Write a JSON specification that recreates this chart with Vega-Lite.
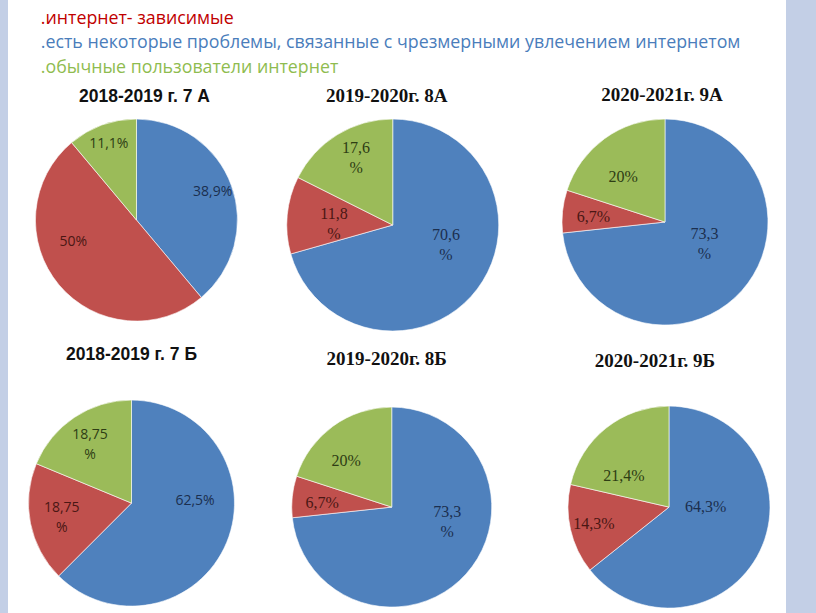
{
  "$schema": "https://vega.github.io/schema/vega-lite/v6.json",
  "width": 816,
  "height": 613,
  "autosize": {"type": "fit", "contains": "padding"},
  "padding": {"left": 8, "right": 30, "top": 0, "bottom": 0},
  "background": "#c3cfe6",
  "config": {"view": {"fill": "white", "stroke": null}},
  "datasets": {
    "slices": [
      {"pie": "7А", "year": "2018-2019", "cls": "А", "cat": "есть некоторые проблемы, связанные с чрезмерными увлечением интернетом", "value": 38.9, "label": "38,9%"},
      {"pie": "7А", "year": "2018-2019", "cls": "А", "cat": "интернет- зависимые", "value": 50, "label": "50%"},
      {"pie": "7А", "year": "2018-2019", "cls": "А", "cat": "обычные пользователи интернет", "value": 11.1, "label": "11,1%"},
      {"pie": "8А", "year": "2019-2020", "cls": "А", "cat": "есть некоторые проблемы, связанные с чрезмерными увлечением интернетом", "value": 70.6, "label": "70,6 %"},
      {"pie": "8А", "year": "2019-2020", "cls": "А", "cat": "интернет- зависимые", "value": 11.8, "label": "11,8 %"},
      {"pie": "8А", "year": "2019-2020", "cls": "А", "cat": "обычные пользователи интернет", "value": 17.6, "label": "17,6 %"},
      {"pie": "9А", "year": "2020-2021", "cls": "А", "cat": "есть некоторые проблемы, связанные с чрезмерными увлечением интернетом", "value": 73.3, "label": "73,3 %"},
      {"pie": "9А", "year": "2020-2021", "cls": "А", "cat": "интернет- зависимые", "value": 6.7, "label": "6,7%"},
      {"pie": "9А", "year": "2020-2021", "cls": "А", "cat": "обычные пользователи интернет", "value": 20, "label": "20%"},
      {"pie": "7Б", "year": "2018-2019", "cls": "Б", "cat": "есть некоторые проблемы, связанные с чрезмерными увлечением интернетом", "value": 62.5, "label": "62,5%"},
      {"pie": "7Б", "year": "2018-2019", "cls": "Б", "cat": "интернет- зависимые", "value": 18.75, "label": "18,75 %"},
      {"pie": "7Б", "year": "2018-2019", "cls": "Б", "cat": "обычные пользователи интернет", "value": 18.75, "label": "18,75 %"},
      {"pie": "8Б", "year": "2019-2020", "cls": "Б", "cat": "есть некоторые проблемы, связанные с чрезмерными увлечением интернетом", "value": 73.3, "label": "73,3 %"},
      {"pie": "8Б", "year": "2019-2020", "cls": "Б", "cat": "интернет- зависимые", "value": 6.7, "label": "6,7%"},
      {"pie": "8Б", "year": "2019-2020", "cls": "Б", "cat": "обычные пользователи интернет", "value": 20, "label": "20%"},
      {"pie": "9Б", "year": "2020-2021", "cls": "Б", "cat": "есть некоторые проблемы, связанные с чрезмерными увлечением интернетом", "value": 64.3, "label": "64,3%"},
      {"pie": "9Б", "year": "2020-2021", "cls": "Б", "cat": "интернет- зависимые", "value": 14.3, "label": "14,3%"},
      {"pie": "9Б", "year": "2020-2021", "cls": "Б", "cat": "обычные пользователи интернет", "value": 21.4, "label": "21,4%"}
    ],
    "titles": [
      {"pie": "7А", "year": "2018-2019", "cls": "А", "title": "2018-2019 г. 7 А"},
      {"pie": "8А", "year": "2019-2020", "cls": "А", "title": "2019-2020г. 8А"},
      {"pie": "9А", "year": "2020-2021", "cls": "А", "title": "2020-2021г. 9А"},
      {"pie": "7Б", "year": "2018-2019", "cls": "Б", "title": "2018-2019 г. 7 Б"},
      {"pie": "8Б", "year": "2019-2020", "cls": "Б", "title": "2019-2020г. 8Б"},
      {"pie": "9Б", "year": "2020-2021", "cls": "Б", "title": "2020-2021г. 9Б"}
    ]
  },
  "encoding": {
    "x": {"field": "year", "type": "nominal", "scale": {"type": "point", "padding": 0.461, "align": 0.503}, "axis": null},
    "y": {"field": "cls", "type": "nominal", "scale": {"type": "point", "padding": 0.579, "align": 0.675}, "axis": null}
  },
  "layer": [
    {
      "data": {"name": "slices"},
      "transform": [{"filter": "datum.pie === '7А'"}],
      "mark": {"type": "arc", "radius": 101, "xOffset": 5, "yOffset": -2, "stroke": "white", "strokeWidth": 0.6},
      "encoding": {
        "theta": {"field": "value", "type": "quantitative", "stack": "normalize"},
        "order": {"field": "cat", "sort": "ascending"},
        "color": {
          "field": "cat", "type": "nominal",
          "scale": {"domain": ["интернет- зависимые", "есть некоторые проблемы, связанные с чрезмерными увлечением интернетом", "обычные пользователи интернет"], "range": ["#c0504d", "#4f81bd", "#9bbb59"]},
          "legend": {
            "title": null, "orient": "none", "legendX": 15, "legendY": 10, "direction": "vertical",
            "labelFont": "Open Sans", "labelFontSize": 17.8, "labelLimit": 0,
            "symbolSize": 0, "symbolOpacity": 0, "symbolStrokeWidth": 0, "labelOffset": 0,
            "rowPadding": 5.5, "padding": 0,
            "labelExpr": "'.' + datum.label",
            "encoding": {"labels": {"fill": {"condition": [{"test": "datum.value === 'интернет- зависимые'", "value": "#c00000"}, {"test": "datum.value === 'обычные пользователи интернет'", "value": "#8fbc4f"}], "value": "#4a7dbb"}}}
          }
        }
      }
    },
    {
      "data": {"name": "slices"},
      "transform": [{"filter": "datum.pie === '8А'"}],
      "mark": {"type": "arc", "radius": 106, "xOffset": -5, "yOffset": 3, "stroke": "white", "strokeWidth": 0.6},
      "encoding": {"theta": {"field": "value", "type": "quantitative", "stack": "normalize"}, "order": {"field": "cat", "sort": "ascending"}, "color": {"field": "cat", "type": "nominal"}}
    },
    {
      "data": {"name": "slices"},
      "transform": [{"filter": "datum.pie === '9А'"}],
      "mark": {"type": "arc", "radius": 103, "xOffset": 1, "yOffset": 0, "stroke": "white", "strokeWidth": 0.6},
      "encoding": {"theta": {"field": "value", "type": "quantitative", "stack": "normalize"}, "order": {"field": "cat", "sort": "ascending"}, "color": {"field": "cat", "type": "nominal"}}
    },
    {
      "data": {"name": "slices"},
      "transform": [{"filter": "datum.pie === '7Б'"}],
      "mark": {"type": "arc", "radius": 103, "xOffset": 0, "yOffset": -3, "stroke": "white", "strokeWidth": 0.6},
      "encoding": {"theta": {"field": "value", "type": "quantitative", "stack": "normalize"}, "order": {"field": "cat", "sort": "ascending"}, "color": {"field": "cat", "type": "nominal"}}
    },
    {
      "data": {"name": "slices"},
      "transform": [{"filter": "datum.pie === '8Б'"}],
      "mark": {"type": "arc", "radius": 100, "xOffset": -6, "yOffset": 1, "stroke": "white", "strokeWidth": 0.6},
      "encoding": {"theta": {"field": "value", "type": "quantitative", "stack": "normalize"}, "order": {"field": "cat", "sort": "ascending"}, "color": {"field": "cat", "type": "nominal"}}
    },
    {
      "data": {"name": "slices"},
      "transform": [{"filter": "datum.pie === '9Б'"}],
      "mark": {"type": "arc", "radius": 101, "xOffset": 5, "yOffset": 1, "stroke": "white", "strokeWidth": 0.6},
      "encoding": {"theta": {"field": "value", "type": "quantitative", "stack": "normalize"}, "order": {"field": "cat", "sort": "ascending"}, "color": {"field": "cat", "type": "nominal"}}
    },

    {
      "data": {"name": "slices"},
      "transform": [{"filter": "datum.pie === '7А'"}],
      "mark": {"type": "text", "radius": 81, "xOffset": 5, "yOffset": -2, "font": "Open Sans", "fontSize": 14, "lineBreak": " ", "lineHeight": 20, "align": "center", "baseline": "middle"},
      "encoding": {
        "theta": {"field": "value", "type": "quantitative", "stack": "normalize"},
        "order": {"field": "cat", "sort": "ascending"},
        "fill": {"field": "cat", "type": "nominal", "scale": {"domain": ["интернет- зависимые", "есть некоторые проблемы, связанные с чрезмерными увлечением интернетом", "обычные пользователи интернет"], "range": ["#4a1714", "#1b2f4f", "#2e3d14"]}, "legend": null},
        "text": {"condition": {"test": "datum.cat === 'интернет- зависимые'", "value": ""}, "field": "label"}
      }
    },
    {
      "data": {"name": "slices"},
      "transform": [{"filter": "datum.pie === '7А'"}],
      "mark": {"type": "text", "radius": 63, "dx": -15, "dy": -18, "xOffset": 5, "yOffset": -2, "font": "Open Sans", "fontSize": 14, "lineBreak": " ", "lineHeight": 20, "align": "center", "baseline": "middle"},
      "encoding": {
        "theta": {"field": "value", "type": "quantitative", "stack": "normalize"},
        "order": {"field": "cat", "sort": "ascending"},
        "fill": {"field": "cat", "type": "nominal", "legend": null},
        "text": {"condition": {"test": "datum.cat !== 'интернет- зависимые'", "value": ""}, "field": "label"}
      }
    },

    {
      "data": {"name": "slices"},
      "transform": [{"filter": "datum.pie === '8А'"}],
      "mark": {"type": "text", "radius": 48, "dx": 15, "dy": -19, "xOffset": -5, "yOffset": 3, "font": "Liberation Serif", "fontSize": 16, "lineBreak": " ", "lineHeight": 20, "align": "center", "baseline": "middle"},
      "encoding": {
        "theta": {"field": "value", "type": "quantitative", "stack": "normalize"},
        "order": {"field": "cat", "sort": "ascending"},
        "fill": {"field": "cat", "type": "nominal", "legend": null},
        "text": {"condition": {"test": "datum.cat !== 'есть некоторые проблемы, связанные с чрезмерными увлечением интернетом'", "value": ""}, "field": "label"}
      }
    },
    {
      "data": {"name": "slices"},
      "transform": [{"filter": "datum.pie === '8А'"}],
      "mark": {"type": "text", "radius": 59, "dx": 0, "dy": -5, "xOffset": -5, "yOffset": 3, "font": "Liberation Serif", "fontSize": 16, "lineBreak": " ", "lineHeight": 20, "align": "center", "baseline": "middle"},
      "encoding": {
        "theta": {"field": "value", "type": "quantitative", "stack": "normalize"},
        "order": {"field": "cat", "sort": "ascending"},
        "fill": {"field": "cat", "type": "nominal", "legend": null},
        "text": {"condition": {"test": "datum.cat !== 'интернет- зависимые'", "value": ""}, "field": "label"}
      }
    },
    {
      "data": {"name": "slices"},
      "transform": [{"filter": "datum.pie === '8А'"}],
      "mark": {"type": "text", "radius": 85, "dx": 8, "dy": -5, "xOffset": -5, "yOffset": 3, "font": "Liberation Serif", "fontSize": 16, "lineBreak": " ", "lineHeight": 20, "align": "center", "baseline": "middle"},
      "encoding": {
        "theta": {"field": "value", "type": "quantitative", "stack": "normalize"},
        "order": {"field": "cat", "sort": "ascending"},
        "fill": {"field": "cat", "type": "nominal", "legend": null},
        "text": {"condition": {"test": "datum.cat !== 'обычные пользователи интернет'", "value": ""}, "field": "label"}
      }
    },

    {
      "data": {"name": "slices"},
      "transform": [{"filter": "datum.pie === '9А'"}],
      "mark": {"type": "text", "radius": 37, "dx": 12, "dy": -13, "xOffset": 1, "yOffset": 0, "font": "Liberation Serif", "fontSize": 16, "lineBreak": " ", "lineHeight": 20, "align": "center", "baseline": "middle"},
      "encoding": {
        "theta": {"field": "value", "type": "quantitative", "stack": "normalize"},
        "order": {"field": "cat", "sort": "ascending"},
        "fill": {"field": "cat", "type": "nominal", "legend": null},
        "text": {"condition": {"test": "datum.cat !== 'есть некоторые проблемы, связанные с чрезмерными увлечением интернетом'", "value": ""}, "field": "label"}
      }
    },
    {
      "data": {"name": "slices"},
      "transform": [{"filter": "datum.pie === '9А'"}],
      "mark": {"type": "text", "radius": 72, "dx": 0, "dy": 2, "xOffset": 1, "yOffset": 0, "font": "Liberation Serif", "fontSize": 16, "lineBreak": " ", "lineHeight": 20, "align": "center", "baseline": "middle"},
      "encoding": {
        "theta": {"field": "value", "type": "quantitative", "stack": "normalize"},
        "order": {"field": "cat", "sort": "ascending"},
        "fill": {"field": "cat", "type": "nominal", "legend": null},
        "text": {"condition": {"test": "datum.cat !== 'интернет- зависимые'", "value": ""}, "field": "label"}
      }
    },
    {
      "data": {"name": "slices"},
      "transform": [{"filter": "datum.pie === '9А'"}],
      "mark": {"type": "text", "radius": 61, "dx": -6, "dy": 4, "xOffset": 1, "yOffset": 0, "font": "Liberation Serif", "fontSize": 16, "lineBreak": " ", "lineHeight": 20, "align": "center", "baseline": "middle"},
      "encoding": {
        "theta": {"field": "value", "type": "quantitative", "stack": "normalize"},
        "order": {"field": "cat", "sort": "ascending"},
        "fill": {"field": "cat", "type": "nominal", "legend": null},
        "text": {"condition": {"test": "datum.cat !== 'обычные пользователи интернет'", "value": ""}, "field": "label"}
      }
    },

    {
      "data": {"name": "slices"},
      "transform": [{"filter": "datum.pie === '7Б'"}],
      "mark": {"type": "text", "radius": 58, "dx": 10, "dy": -24, "xOffset": 0, "yOffset": -3, "font": "Open Sans", "fontSize": 14, "lineBreak": " ", "lineHeight": 20, "align": "center", "baseline": "middle"},
      "encoding": {
        "theta": {"field": "value", "type": "quantitative", "stack": "normalize"},
        "order": {"field": "cat", "sort": "ascending"},
        "fill": {"field": "cat", "type": "nominal", "legend": null},
        "text": {"condition": {"test": "datum.cat !== 'есть некоторые проблемы, связанные с чрезмерными увлечением интернетом'", "value": ""}, "field": "label"}
      }
    },
    {
      "data": {"name": "slices"},
      "transform": [{"filter": "datum.pie === '7Б'"}],
      "mark": {"type": "text", "radius": 69, "dx": -2, "dy": -9, "xOffset": 0, "yOffset": -3, "font": "Open Sans", "fontSize": 14, "lineBreak": " ", "lineHeight": 20, "align": "center", "baseline": "middle"},
      "encoding": {
        "theta": {"field": "value", "type": "quantitative", "stack": "normalize"},
        "order": {"field": "cat", "sort": "ascending"},
        "fill": {"field": "cat", "type": "nominal", "legend": null},
        "text": {"condition": {"test": "datum.cat !== 'интернет- зависимые'", "value": ""}, "field": "label"}
      }
    },
    {
      "data": {"name": "slices"},
      "transform": [{"filter": "datum.pie === '7Б'"}],
      "mark": {"type": "text", "radius": 80, "dx": 3, "dy": -2, "xOffset": 0, "yOffset": -3, "font": "Open Sans", "fontSize": 14, "lineBreak": " ", "lineHeight": 20, "align": "center", "baseline": "middle"},
      "encoding": {
        "theta": {"field": "value", "type": "quantitative", "stack": "normalize"},
        "order": {"field": "cat", "sort": "ascending"},
        "fill": {"field": "cat", "type": "nominal", "legend": null},
        "text": {"condition": {"test": "datum.cat !== 'обычные пользователи интернет'", "value": ""}, "field": "label"}
      }
    },

    {
      "data": {"name": "slices"},
      "transform": [{"filter": "datum.pie === '8Б'"}],
      "mark": {"type": "text", "radius": 45, "dx": 22, "dy": -25, "xOffset": -6, "yOffset": 1, "font": "Liberation Serif", "fontSize": 16, "lineBreak": " ", "lineHeight": 20, "align": "center", "baseline": "middle"},
      "encoding": {
        "theta": {"field": "value", "type": "quantitative", "stack": "normalize"},
        "order": {"field": "cat", "sort": "ascending"},
        "fill": {"field": "cat", "type": "nominal", "legend": null},
        "text": {"condition": {"test": "datum.cat !== 'есть некоторые проблемы, связанные с чрезмерными увлечением интернетом'", "value": ""}, "field": "label"}
      }
    },
    {
      "data": {"name": "slices"},
      "transform": [{"filter": "datum.pie === '8Б'"}],
      "mark": {"type": "text", "radius": 70, "dx": 0, "dy": 3, "xOffset": -6, "yOffset": 1, "font": "Liberation Serif", "fontSize": 16, "lineBreak": " ", "lineHeight": 20, "align": "center", "baseline": "middle"},
      "encoding": {
        "theta": {"field": "value", "type": "quantitative", "stack": "normalize"},
        "order": {"field": "cat", "sort": "ascending"},
        "fill": {"field": "cat", "type": "nominal", "legend": null},
        "text": {"condition": {"test": "datum.cat !== 'интернет- зависимые'", "value": ""}, "field": "label"}
      }
    },
    {
      "data": {"name": "slices"},
      "transform": [{"filter": "datum.pie === '8Б'"}],
      "mark": {"type": "text", "radius": 64, "dx": -8, "dy": 6, "xOffset": -6, "yOffset": 1, "font": "Liberation Serif", "fontSize": 16, "lineBreak": " ", "lineHeight": 20, "align": "center", "baseline": "middle"},
      "encoding": {
        "theta": {"field": "value", "type": "quantitative", "stack": "normalize"},
        "order": {"field": "cat", "sort": "ascending"},
        "fill": {"field": "cat", "type": "nominal", "legend": null},
        "text": {"condition": {"test": "datum.cat !== 'обычные пользователи интернет'", "value": ""}, "field": "label"}
      }
    },

    {
      "data": {"name": "slices"},
      "transform": [{"filter": "datum.pie === '9Б'"}],
      "mark": {"type": "text", "radius": 33, "dx": 7, "dy": -14, "xOffset": 5, "yOffset": 1, "font": "Liberation Serif", "fontSize": 16, "lineBreak": " ", "lineHeight": 20, "align": "center", "baseline": "middle"},
      "encoding": {
        "theta": {"field": "value", "type": "quantitative", "stack": "normalize"},
        "order": {"field": "cat", "sort": "ascending"},
        "fill": {"field": "cat", "type": "nominal", "legend": null},
        "text": {"condition": {"test": "datum.cat !== 'есть некоторые проблемы, связанные с чрезмерными увлечением интернетом'", "value": ""}, "field": "label"}
      }
    },
    {
      "data": {"name": "slices"},
      "transform": [{"filter": "datum.pie === '9Б'"}],
      "mark": {"type": "text", "radius": 77, "dx": 0, "dy": 0, "xOffset": 5, "yOffset": 1, "font": "Liberation Serif", "fontSize": 16, "lineBreak": " ", "lineHeight": 20, "align": "center", "baseline": "middle"},
      "encoding": {
        "theta": {"field": "value", "type": "quantitative", "stack": "normalize"},
        "order": {"field": "cat", "sort": "ascending"},
        "fill": {"field": "cat", "type": "nominal", "legend": null},
        "text": {"condition": {"test": "datum.cat !== 'интернет- зависимые'", "value": ""}, "field": "label"}
      }
    },
    {
      "data": {"name": "slices"},
      "transform": [{"filter": "datum.pie === '9Б'"}],
      "mark": {"type": "text", "radius": 53, "dx": -12, "dy": 10, "xOffset": 5, "yOffset": 1, "font": "Liberation Serif", "fontSize": 16, "lineBreak": " ", "lineHeight": 20, "align": "center", "baseline": "middle"},
      "encoding": {
        "theta": {"field": "value", "type": "quantitative", "stack": "normalize"},
        "order": {"field": "cat", "sort": "ascending"},
        "fill": {"field": "cat", "type": "nominal", "legend": null},
        "text": {"condition": {"test": "datum.cat !== 'обычные пользователи интернет'", "value": ""}, "field": "label"}
      }
    },

    {
      "data": {"name": "titles"},
      "transform": [{"filter": "datum.pie === '7А'"}],
      "mark": {"type": "text", "font": "Liberation Sans", "fontWeight": "bold", "fontSize": 17.5, "dx": 13, "dy": -125, "color": "#111111", "baseline": "middle"},
      "encoding": {"text": {"field": "title"}}
    },
    {
      "data": {"name": "titles"},
      "transform": [{"filter": "datum.pie === '8А'"}],
      "mark": {"type": "text", "font": "Liberation Serif", "fontWeight": "bold", "fontSize": 19, "dx": -11, "dy": -126, "color": "#111111", "baseline": "middle"},
      "encoding": {"text": {"field": "title"}}
    },
    {
      "data": {"name": "titles"},
      "transform": [{"filter": "datum.pie === '9А'"}],
      "mark": {"type": "text", "font": "Liberation Serif", "fontWeight": "bold", "fontSize": 19, "dx": -2, "dy": -127, "color": "#111111", "baseline": "middle"},
      "encoding": {"text": {"field": "title"}}
    },
    {
      "data": {"name": "titles"},
      "transform": [{"filter": "datum.pie === '7Б'"}],
      "mark": {"type": "text", "font": "Liberation Sans", "fontWeight": "bold", "fontSize": 17.5, "dx": 0, "dy": -151, "color": "#111111", "baseline": "middle"},
      "encoding": {"text": {"field": "title"}}
    },
    {
      "data": {"name": "titles"},
      "transform": [{"filter": "datum.pie === '8Б'"}],
      "mark": {"type": "text", "font": "Liberation Serif", "fontWeight": "bold", "fontSize": 19, "dx": -11, "dy": -147, "color": "#111111", "baseline": "middle"},
      "encoding": {"text": {"field": "title"}}
    },
    {
      "data": {"name": "titles"},
      "transform": [{"filter": "datum.pie === '9Б'"}],
      "mark": {"type": "text", "font": "Liberation Serif", "fontWeight": "bold", "fontSize": 19, "dx": -9, "dy": -145, "color": "#111111", "baseline": "middle"},
      "encoding": {"text": {"field": "title"}}
    }
  ]
}
